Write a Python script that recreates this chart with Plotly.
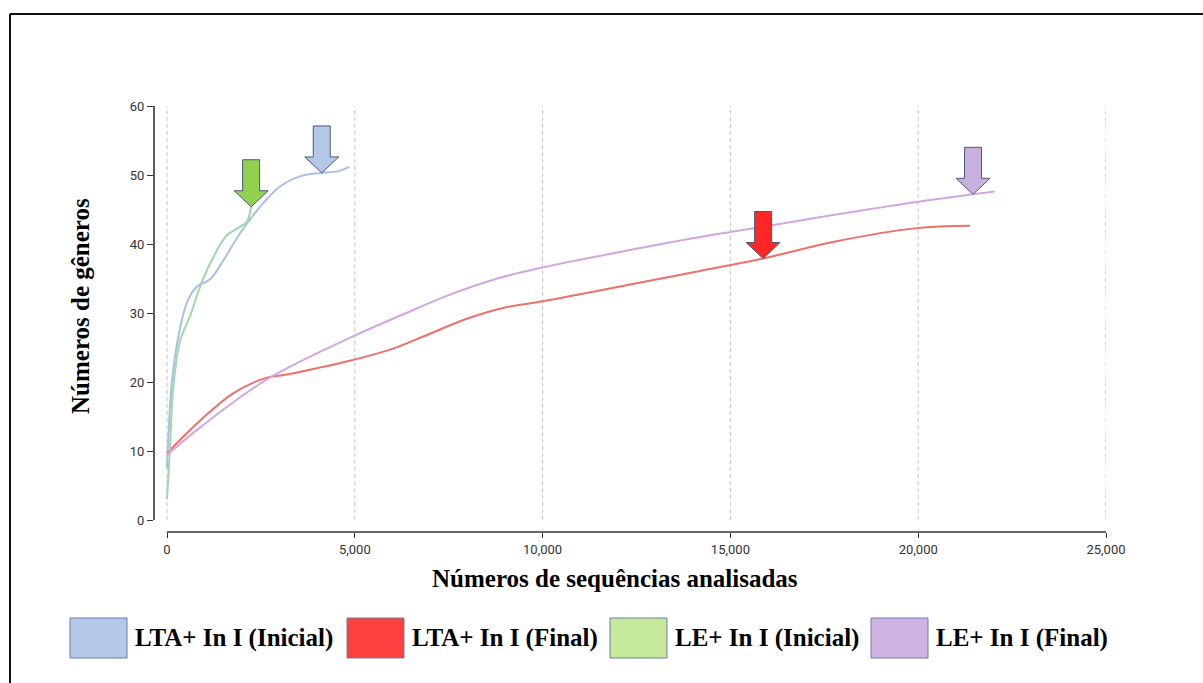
import numpy as np
import plotly.graph_objects as go

# Rarefaction curves: number of genera vs number of analysed sequences
lta_ini_x = [0, 130, 300, 530, 790, 1150, 1500, 1950, 2480, 3000, 3540, 4120, 4600, 4850]
lta_ini_y = [7.5, 20, 26.5, 31.5, 33.8, 34.9, 37.6, 41.6, 45.4, 48.3, 49.8, 50.3, 50.6, 51.2]

lta_fin_x = [0, 900, 1770, 2640, 3100, 3990, 4950, 6000, 7000, 8000, 9000, 10000, 12500, 14190, 15870, 17730, 19960, 21380]
lta_fin_y = [9.7, 14.5, 18.4, 20.6, 21, 22, 23.2, 24.8, 27.0, 29.2, 30.8, 31.7, 34.3, 36.1, 37.9, 40.3, 42.3, 42.65]

le_ini_x = [0, 80, 160, 350, 610, 880, 1150, 1580, 1850, 2120, 2240]
le_ini_y = [3, 10.5, 18.8, 26, 29.5, 33.8, 37.2, 41.2, 42.2, 43.2, 45.4]

le_fin_x = [0, 900, 2640, 4950, 6200, 7500, 8800, 10000, 12500, 14190, 15870, 17730, 19960, 21460, 22040]
le_fin_y = [9.4, 13.5, 20.3, 26.6, 29.6, 32.6, 35, 36.6, 39.3, 41, 42.5, 44.2, 46.1, 47.2, 47.6]

series_names = ["LTA+ In I (Inicial)", "LTA+ In I (Final)", "LE+ In I (Inicial)", "LE+ In I (Final)"]
line_colors = ["#a9bfe9", "#ef6f6a", "#9fd8a9", "#d3a6e2"]
swatch_colors = ["#b4c7e7", "#ff4040", "#c5e89a", "#cdb4e3"]
arrow_colors = ["#b4c7e7", "#ff2626", "#92d050", "#c8b0de"]

# x position (sequences) where each curve is flagged with an arrow
arrow_x = [4120, 15870, 2240, 21460]

x_ticks = [0, 5000, 10000, 15000, 20000, 25000]
y_ticks = [0, 10, 20, 30, 40, 50, 60]

xs = [lta_ini_x, lta_fin_x, le_ini_x, le_fin_x]
ys = [lta_ini_y, lta_fin_y, le_ini_y, le_fin_y]

W, H = 1203, 683
L, R, T, B = 154, 1106, 106, 532   # plot area in pixels


def px(xp):
    return (xp - L) / (R - L)


def py(yp):
    return (B - yp) / (B - T)


fig = go.Figure()

# vertical dashed grid lines (span the 0–60 range only)
shapes = []
for xv in x_ticks:
    shapes.append(dict(type="line", xref="x", yref="y", x0=xv, x1=xv, y0=y_ticks[0], y1=y_ticks[-1],
                       line=dict(color="#c4c4c4", width=1, dash="4px,3px"), layer="below"))

for i in range(4):
    fig.add_trace(go.Scatter(x=xs[i], y=ys[i], mode="lines", name=series_names[i],
                             line=dict(color=line_colors[i], width=2, shape="spline", smoothing=1),
                             showlegend=False))

# axis lines, offset from each other
shapes.append(dict(type="line", xref="paper", yref="y", x0=0, x1=0, y0=y_ticks[0], y1=y_ticks[-1],
                   line=dict(color="#333333", width=1.6)))
shapes.append(dict(type="line", xref="x", yref="paper", x0=x_ticks[0], x1=x_ticks[-1], y0=0, y1=0,
                   line=dict(color="#333333", width=1.6)))

# down arrows pointing at curve positions
arrow_path = "M -8.5,47 L 8.5,47 L 8.5,16 L 17,16 L 0,0 L -17,16 L -8.5,16 Z"
for i in range(4):
    ax_ = arrow_x[i]
    ay_ = float(np.interp(ax_, xs[i], ys[i]))
    shapes.append(dict(type="path", xref="x", yref="y", xsizemode="pixel", ysizemode="pixel",
                       xanchor=ax_, yanchor=ay_, path=arrow_path,
                       fillcolor=arrow_colors[i], line=dict(color="#4a5a7a", width=1)))

# outer frame (top and left edges)
shapes.append(dict(type="line", xref="paper", yref="paper", x0=px(10), x1=px(1210), y0=py(14), y1=py(14),
                   line=dict(color="#111111", width=2)))
shapes.append(dict(type="line", xref="paper", yref="paper", x0=px(10), x1=px(10), y0=py(14), y1=py(690),
                   line=dict(color="#111111", width=2)))

annotations = []
# legend: coloured boxes with labels
legend_box_x = [70, 347, 610, 871]
for i in range(4):
    x0 = legend_box_x[i]
    shapes.append(dict(type="rect", xref="paper", yref="paper",
                       x0=px(x0), x1=px(x0 + 57), y0=py(618), y1=py(658),
                       fillcolor=swatch_colors[i], line=dict(color="#6b7fa8", width=1)))
    annotations.append(dict(xref="paper", yref="paper", x=px(x0 + 63), y=py(638),
                            text=f"<b>{series_names[i]}</b>", showarrow=False,
                            xanchor="left", yanchor="middle",
                            font=dict(family="Liberation Serif", size=25, color="#000000")))

# axis titles
annotations.append(dict(xref="paper", yref="paper", x=px(615), y=py(578),
                        text="<b>Números de sequências analisadas</b>", showarrow=False,
                        xanchor="center", yanchor="middle",
                        font=dict(family="Liberation Serif", size=25, color="#000000")))
annotations.append(dict(xref="paper", yref="paper", x=px(80), y=py(306),
                        text="<b>Números de gêneros</b>", showarrow=False, textangle=-90,
                        xanchor="center", yanchor="middle",
                        font=dict(family="Liberation Serif", size=25, color="#000000")))

x_span = x_ticks[-1] - x_ticks[0]
y_span = y_ticks[-1] - y_ticks[0]
x_lo = x_ticks[0] - x_span * (167 - L) / (1106 - 167)
y_lo = y_ticks[0] - y_span * (B - 520) / (520 - T)

fig.update_layout(
    width=W, height=H,
    margin=dict(l=L, r=W - R, t=T, b=H - B),
    paper_bgcolor="white", plot_bgcolor="white",
    shapes=shapes, annotations=annotations,
    xaxis=dict(range=[x_lo, x_ticks[-1]], tickvals=x_ticks, tickformat=",", showgrid=False,
               zeroline=False, showline=False, ticks="outside", ticklen=5, tickcolor="#333333",
               tickwidth=1.2, tickfont=dict(family="Roboto", size=13, color="#333333")),
    yaxis=dict(range=[y_lo, y_ticks[-1]], tickvals=y_ticks, showgrid=False, zeroline=False,
               showline=False, ticks="outside", ticklen=6, tickcolor="#333333", tickwidth=1.2,
               tickfont=dict(family="Roboto", size=13, color="#333333")),
    showlegend=False,
)

fig.write_html("out.html")
